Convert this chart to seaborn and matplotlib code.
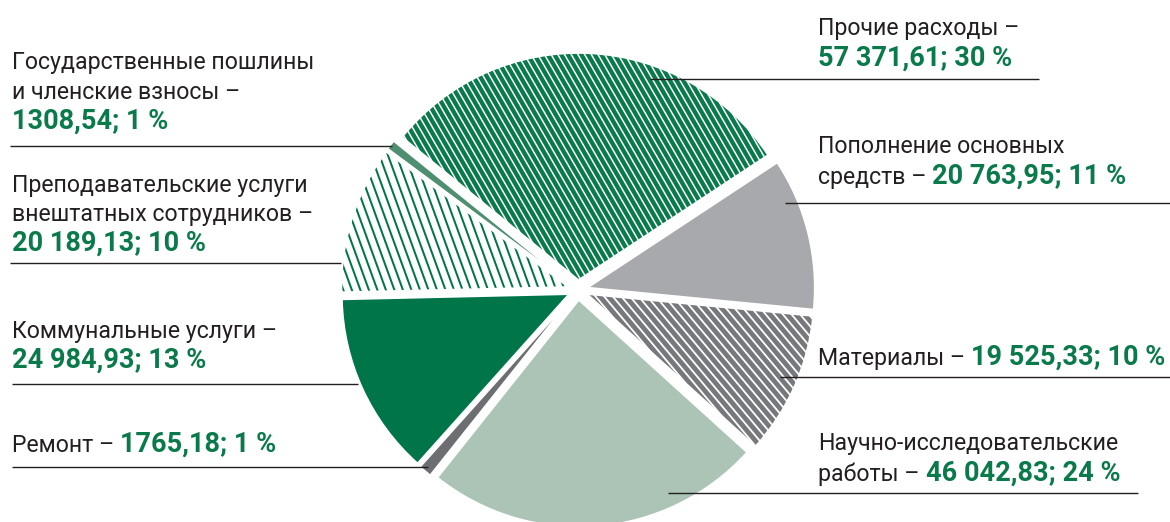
import numpy as np
import matplotlib
matplotlib.use("Agg")
import matplotlib.pyplot as plt
import seaborn as sns
from matplotlib.collections import LineCollection

# Expense structure, clockwise from the top-left
categories = [
    "Прочие расходы",
    "Пополнение основных средств",
    "Материалы",
    "Научно-исследовательские работы",
    "Ремонт",
    "Коммунальные услуги",
    "Преподавательские услуги внештатных сотрудников",
    "Государственные пошлины и членские взносы",
]
values = [57371.61, 20763.95, 19525.33, 46042.83, 1765.18, 24984.93, 20189.13, 1308.54]

face_colors = ["#0a7a4c", "#a7a9ac", "#77787b", "#abc4b6", "#6d6e71", "#00754a", "#ffffff", "#4e8f70"]
# (line colour, angle from horizontal in degrees, perpendicular spacing px, width px) or None
hatches = [
    ("#ffffff", 60, 5.8, 1.5),
    None,
    ("#ffffff", 50, 6.6, 1.8),
    None,
    None,
    None,
    ("#00754a", 70, 8.0, 2.0),
    None,
]

TEXT = "#231f20"
GREEN = "#0b7a4b"

sns.set_theme(style="white")
plt.rcParams["font.family"] = ["Roboto", "DejaVu Sans"]

W, H = 1170, 522
fig = plt.figure(figsize=(W / 100, H / 100), dpi=100)
ax = fig.add_axes([0, 0, 1, 1])

center = (578, H - 290)
radius = 227
explode = [10] * len(values)   # offset of each wedge, px

wedges, _ = ax.pie(values, colors=face_colors, startangle=141, counterclock=False,
                   center=center, radius=radius, explode=explode,
                   wedgeprops=dict(linewidth=0))

# Striped fills, clipped to their wedges
for w, h in zip(wedges, hatches):
    if h is None:
        continue
    col, ang, step, lw = h
    t = np.deg2rad(ang)
    u = np.array([np.cos(t), -np.sin(t)])
    n = np.array([np.sin(t), np.cos(t)])
    c = np.array(center, dtype=float)
    L = radius * 1.5
    segs = []
    for k in np.arange(-L, L, step):
        p = c + k * n
        segs.append([p - L * u, p + L * u])
    lc = LineCollection(segs, colors=col, linewidths=lw * 0.72, zorder=3)
    ax.add_collection(lc)
    lc.set_clip_path(w)

# White seams between the wedges
ax.pie(values, colors=["none"] * len(values), startangle=141, counterclock=False,
       center=center, radius=radius, explode=explode,
       wedgeprops=dict(linewidth=1.2, edgecolor="white", fill=False, zorder=4))

ax.set_xlim(0, W)
ax.set_ylim(0, H)
ax.set_aspect("auto")
ax.axis("off")

# Whole percentages that add up to 100 (largest remainder)
total = sum(values)
raw = [v / total * 100 for v in values]
pct = [int(np.floor(r)) for r in raw]
for i in sorted(range(len(raw)), key=lambda i: raw[i] - pct[i], reverse=True)[:100 - sum(pct)]:
    pct[i] += 1


def fmt(i):
    whole, frac = f"{values[i]:.2f}".split(".")
    if len(whole) > 4:
        whole = whole[:-3] + " " + whole[-3:]
    return f"{whole},{frac}; {pct[i]} %"


renderer = fig.canvas.get_renderer()
FS_REG = 16.7
FS_BOLD = 19.5


def draw_lines(x, baselines, lines):
    for y, segs in zip(baselines, lines):
        cx = x
        for s, bold in segs:
            t = ax.text(cx, H - y, s, fontsize=FS_BOLD if bold else FS_REG,
                        va="baseline", ha="left",
                        color=GREEN if bold else TEXT,
                        fontweight="bold" if bold else "normal", zorder=6)
            cx = t.get_window_extent(renderer).x1 + 6


def leader(y, x0, x1):
    ax.plot([x0, x1], [H - y, H - y], color=TEXT, lw=1.0, solid_capstyle="butt", zorder=7)


# Left column
draw_lines(12, [69, 99, 129], [[("Государственные пошлины", False)],
                               [("и членские взносы –", False)],
                               [(fmt(7), True)]])
leader(146, 10, 392)
draw_lines(12, [192, 221, 251], [[("Преподавательские услуги", False)],
                                 [("внештатных сотрудников –", False)],
                                 [(fmt(6), True)]])
leader(263, 10, 341)
draw_lines(12, [338, 368], [[("Коммунальные услуги –", False)],
                            [(fmt(5), True)]])
leader(384, 12, 358)
draw_lines(12, [452], [[("Ремонт –", False), (fmt(4), True)]])
leader(467, 12, 428)

# Right column
draw_lines(818, [35, 66], [[("Прочие расходы –", False)],
                           [(fmt(0), True)]])
leader(79, 650, 1039)
draw_lines(818, [153, 184], [[("Пополнение основных", False)],
                             [("средств –", False), (fmt(1), True)]])
leader(203, 785, 1170)
draw_lines(818, [365], [[("Материалы –", False), (fmt(2), True)]])
leader(377, 780, 1170)
draw_lines(818, [450, 481], [[("Научно-исследовательские", False)],
                             [("работы –", False), (fmt(3), True)]])
leader(493, 668, 1138)

fig.savefig("out.png", dpi=100, facecolor="white")
